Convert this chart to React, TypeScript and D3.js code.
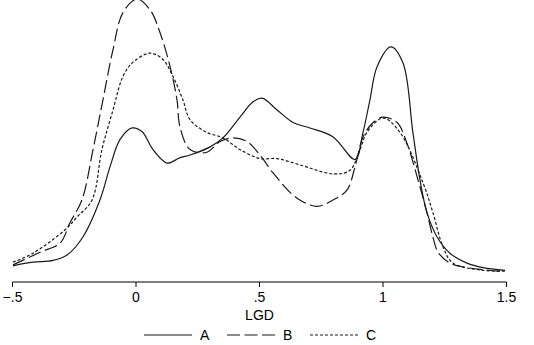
import React, { useEffect } from "react";
import * as d3 from "d3";

const W = 534;
const H = 345;

// kernel density estimates: [LGD, density]
const seriesA: [number, number][] = [
  [-0.498, 0.08], [-0.417, 0.12], [-0.336, 0.14], [-0.279, 0.2], [-0.215, 0.4],
  [-0.146, 0.81], [-0.105, 1.18], [-0.065, 1.48], [-0.016, 1.61], [0.024, 1.57],
  [0.069, 1.37], [0.126, 1.22], [0.178, 1.28], [0.219, 1.31], [0.3, 1.4],
  [0.352, 1.5], [0.421, 1.73], [0.474, 1.9], [0.51, 1.94], [0.571, 1.81],
  [0.636, 1.67], [0.704, 1.61], [0.798, 1.51], [0.887, 1.26], [0.919, 1.56],
  [0.947, 1.92], [0.976, 2.29], [1.032, 2.51], [1.081, 2.33], [1.121, 1.56],
  [1.15, 1.03], [1.178, 0.67], [1.219, 0.4], [1.271, 0.22], [1.34, 0.11],
  [1.405, 0.06], [1.494, 0.03],
];
const seriesB: [number, number][] = [
  [-0.498, 0.09], [-0.389, 0.23], [-0.308, 0.33], [-0.267, 0.56], [-0.219, 0.81],
  [-0.174, 1.37], [-0.134, 1.92], [-0.093, 2.48], [-0.053, 2.89], [0.004, 3.04],
  [0.057, 2.92], [0.097, 2.67], [0.138, 2.29], [0.166, 1.92], [0.178, 1.62],
  [0.219, 1.37], [0.287, 1.34], [0.34, 1.46], [0.393, 1.5], [0.449, 1.46],
  [0.502, 1.31], [0.555, 1.11], [0.652, 0.83], [0.733, 0.74], [0.798, 0.81],
  [0.854, 0.92], [0.887, 1.18], [0.919, 1.51], [0.96, 1.67], [1.0, 1.73],
  [1.057, 1.67], [1.097, 1.44], [1.138, 1.07], [1.178, 0.67], [1.202, 0.4],
  [1.223, 0.23], [1.271, 0.11], [1.34, 0.06], [1.474, 0.02],
];
const seriesC: [number, number][] = [
  [-0.498, 0.12], [-0.417, 0.22], [-0.287, 0.48], [-0.239, 0.62], [-0.178, 0.81],
  [-0.138, 1.37], [-0.093, 1.81], [-0.053, 2.18], [-0.012, 2.34], [0.057, 2.44],
  [0.109, 2.37], [0.15, 2.18], [0.19, 1.92], [0.219, 1.7], [0.287, 1.56],
  [0.352, 1.5], [0.421, 1.37], [0.502, 1.27], [0.571, 1.27], [0.664, 1.2],
  [0.798, 1.1], [0.866, 1.14], [0.907, 1.37], [0.935, 1.56], [1.0, 1.72],
  [1.069, 1.56], [1.162, 1.0], [1.202, 0.67], [1.243, 0.29], [1.283, 0.11],
  [1.405, 0.03], [1.494, 0.02],
];

const tickValues = [-0.5, 0, 0.5, 1, 1.5];
const tickLabels = ["\u2212.5", "0", ".5", "1", "1.5"];
const seriesNames = ["A", "B", "C"];
const dashes = ["none", "13 4.5", "3 2"];

const FONT = "'Liberation Sans', Arial, Helvetica, sans-serif";

export default function App() {
  useEffect(() => {
    document.body.style.margin = "0";
  }, []);

  const x = d3.scaleLinear().domain([-0.5, 1.5]).range([12.5, 506.5]);
  const y = d3.scaleLinear().domain([0, 3.03]).range([273, 0]);
  const line = d3
    .line<[number, number]>()
    .x((d) => x(d[0]))
    .y((d) => y(d[1]))
    .curve(d3.curveCatmullRom.alpha(0.5));

  const all = [seriesA, seriesB, seriesC];
  const axisY = 282;

  const legendX = [144, 227, 310];

  return (
    <svg width={W} height={H} style={{ display: "block", background: "#fff" }}>
      {all.map((s, i) => (
        <path
          key={i}
          d={line(s) || ""}
          fill="none"
          stroke="#1a1a1a"
          strokeWidth={1.2}
          strokeDasharray={dashes[i]}
        />
      ))}
      <line x1={x(-0.5)} x2={x(1.5)} y1={axisY} y2={axisY} stroke="#000" strokeWidth={1} />
      {tickValues.map((v, i) => (
        <g key={v}>
          <line x1={x(v)} x2={x(v)} y1={axisY} y2={axisY + 5} stroke="#000" strokeWidth={1} />
          <text
            x={x(v)}
            y={302}
            textAnchor="middle"
            fontFamily={FONT}
            fontSize={14}
            fill="#000"
          >
            {tickLabels[i]}
          </text>
        </g>
      ))}
      <text x={x(0.5)} y={320} textAnchor="middle" fontFamily={FONT} fontSize={14} fill="#000">
        LGD
      </text>
      {seriesNames.map((n, i) => (
        <g key={n}>
          <line
            x1={legendX[i]}
            x2={legendX[i] + 48}
            y1={335}
            y2={335}
            stroke="#1a1a1a"
            strokeWidth={1.2}
            strokeDasharray={dashes[i]}
          />
          <text x={legendX[i] + 56} y={340} fontFamily={FONT} fontSize={14} fill="#000">
            {n}
          </text>
        </g>
      ))}
    </svg>
  );
}
